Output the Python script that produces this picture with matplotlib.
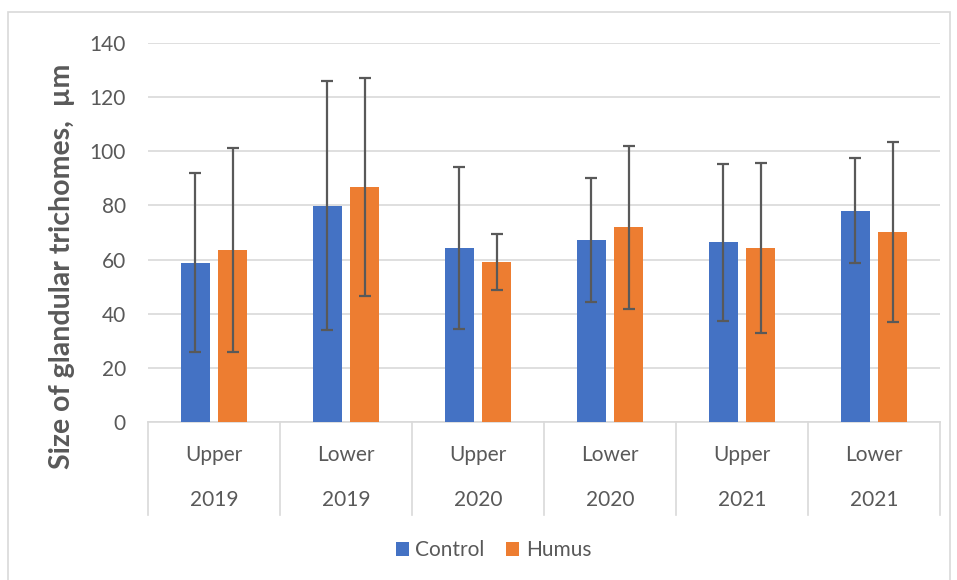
import matplotlib
matplotlib.use("Agg")
import matplotlib.pyplot as plt
import matplotlib.transforms as mtransforms
from matplotlib.patches import Rectangle
import numpy as np

plt.rcParams['font.family'] = ['Lato', 'DejaVu Sans']

levels = ["Upper", "Lower", "Upper", "Lower", "Upper", "Lower"]
years = ["2019", "2019", "2020", "2020", "2021", "2021"]
series_names = ["Control", "Humus"]
control = [58.8, 79.8, 64.2, 67.2, 66.4, 78.1]
control_err = [33.1, 46.0, 30.0, 22.9, 29.0, 19.3]
humus = [63.5, 86.8, 59.0, 71.9, 64.2, 70.2]
humus_err = [37.7, 40.3, 10.4, 30.1, 31.4, 33.4]
yticks = [0, 20, 40, 60, 80, 100, 120, 140]

BLUE = "#4472C4"
ORANGE = "#ED7D31"
GRAY = "#595959"
GRID = "#D9D9D9"

fig = plt.figure(figsize=(9.57, 5.8), dpi=100)
ax = fig.add_axes([148/957, (580-422)/580, (940-148)/957, (422-43)/580])

x = np.arange(len(levels))
w = 0.223
off = 0.142
err_kw = dict(ecolor=GRAY, elinewidth=1.6, capsize=4.2, capthick=1.6)
ax.bar(x - off, control, w, yerr=control_err, color=BLUE, label=series_names[0],
       error_kw=err_kw, zorder=3)
ax.bar(x + off, humus, w, yerr=humus_err, color=ORANGE, label=series_names[1],
       error_kw=err_kw, zorder=3)

ax.set_xlim(-0.5, len(levels) - 0.5)
ax.set_ylim(0, 140)
ax.set_yticks(yticks)
ax.yaxis.grid(True, color=GRID, linewidth=1.2, zorder=0)
ax.set_axisbelow(True)
for s in ["top", "right", "left"]:
    ax.spines[s].set_visible(False)
ax.spines["bottom"].set_color(GRID)
ax.spines["bottom"].set_linewidth(1.2)
ax.tick_params(axis="y", length=0, labelsize=15, labelcolor=GRAY, pad=16)
ax.set_xticks([])

trans = mtransforms.blended_transform_factory(ax.transData, ax.transAxes)
for i in range(len(levels) + 1):
    ax.plot([i - 0.5, i - 0.5], [0, -0.245], transform=trans, color=GRID,
            linewidth=1.2, clip_on=False)
for i, (lv, yr) in enumerate(zip(levels, years)):
    ax.text(i, -0.102, lv, transform=trans, ha="center", va="baseline",
            fontsize=15, color=GRAY)
    ax.text(i, -0.2216, yr, transform=trans, ha="center", va="baseline",
            fontsize=15, color=GRAY)

ax.set_ylabel("Size of glandular trichomes,  µm", fontsize=20.5, fontweight="bold",
              color=GRAY)
ax.yaxis.set_label_coords(-0.092, 0.412)

leg = fig.legend(loc="center", bbox_to_anchor=(493.5/957, 0.0509), ncol=2, frameon=False,
                 fontsize=15, handlelength=0.625, handleheight=0.625, handletextpad=0.3,
                 columnspacing=1.05)
for t in leg.get_texts():
    t.set_color(GRAY)

fig.patches.append(Rectangle((8/957, -0.01), (950-8)/957, (580-12)/580 + 0.01,
                             transform=fig.transFigure, fill=False,
                             edgecolor=GRID, linewidth=1.2))

fig.savefig("out.png", dpi=100)
